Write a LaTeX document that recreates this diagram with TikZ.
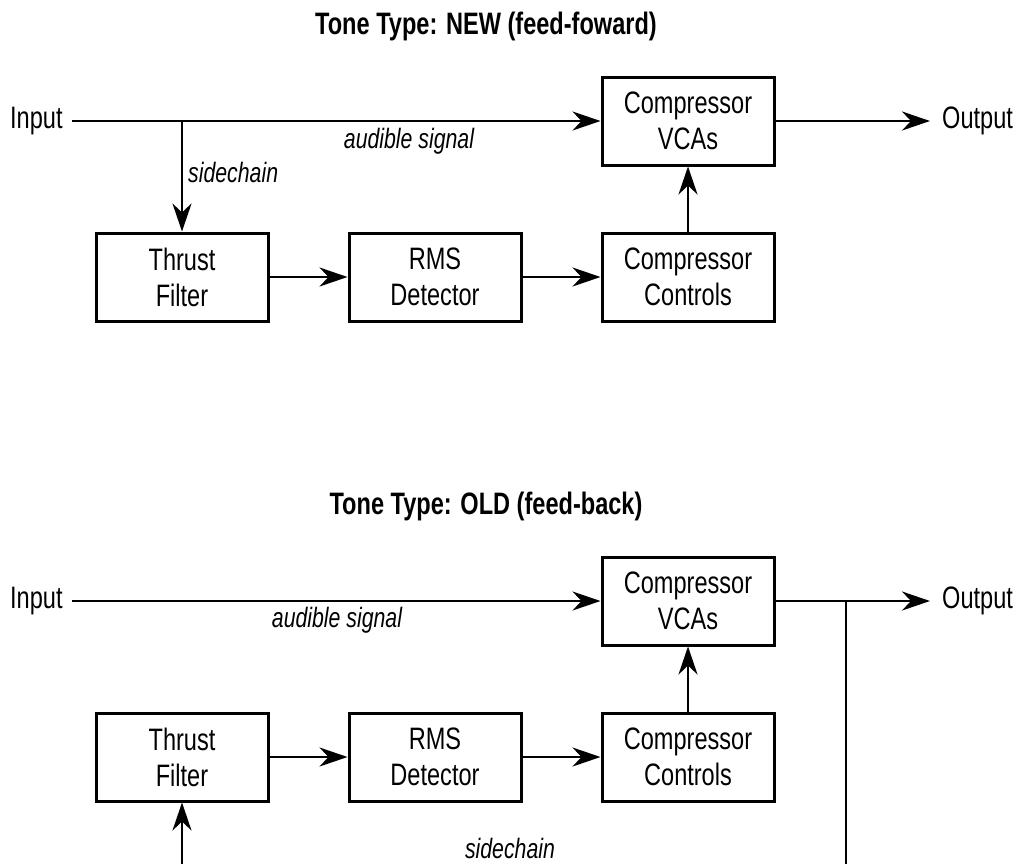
\documentclass[tikz,border=0pt]{standalone}
\usepackage{fontspec}
\setmainfont{Liberation Sans}[FakeStretch=0.76]
\usetikzlibrary{arrows.meta}
\begin{document}
\begin{tikzpicture}[x=1pt,y=-1pt,
  blk/.style={draw,line width=3pt,minimum width=172pt,minimum height=88pt,align=center,
    font=\fontsize{31}{36}\selectfont,inner sep=0pt},
  lbl/.style={font=\fontsize{31}{36}\selectfont,inner sep=0pt},
  ital/.style={font=\fontsize{28}{32}\selectfont\itshape,inner sep=0pt},
  ttl/.style={font=\fontsize{31}{36}\selectfont\bfseries,inner sep=0pt},
  wire/.style={line width=2.6pt},
  arr/.style={wire,-{Stealth[length=28pt,width=19pt,inset=9pt]}}]
\useasboundingbox (0,0) rectangle (1022,863);
\clip (0,0) rectangle (1022,863);

% ---------- top diagram ----------
\node[ttl] (t1) at (486,26) {Tone Type: NEW (feed-foward)};
\node[lbl,anchor=west] (in1) at (10,121) {Input};
\node[lbl,anchor=west] (out1) at (942,121) {Output};
\node[blk] (vca1) at (688,121) {Compressor\\VCAs};
\node[blk] (tf1) at (182,277) {Thrust\\Filter};
\node[blk] (rms1) at (435,277) {RMS\\Detector};
\node[blk] (cc1) at (688,277) {Compressor\\Controls};
\node[ital] (as1) at (409,141) {audible signal};
\node[ital,anchor=west] (sc1) at (188,172) {sidechain};

\draw[arr] ([xshift=9pt]in1.east) -- (vca1.west);
\coordinate (br1) at (tf1.north |- in1.east);
\draw[arr] (br1) -- (tf1.north);
\draw[arr] (tf1.east) -- (rms1.west);
\draw[arr] (rms1.east) -- (cc1.west);
\draw[arr] (cc1.north) -- (vca1.south);
\draw[arr] (vca1.east) -- ([xshift=-12pt]out1.west);

% ---------- bottom diagram ----------
\node[ttl] (t2) at (486,506) {Tone Type: OLD (feed-back)};
\node[lbl,anchor=west] (in2) at (10,601) {Input};
\node[lbl,anchor=west] (out2) at (942,601) {Output};
\node[blk] (vca2) at (688,601) {Compressor\\VCAs};
\node[blk] (tf2) at (182,757) {Thrust\\Filter};
\node[blk] (rms2) at (435,757) {RMS\\Detector};
\node[blk] (cc2) at (688,757) {Compressor\\Controls};
\node[ital] (as2) at (337,620) {audible signal};
\node[ital] (sc2) at (510,848) {sidechain};

\draw[arr] ([xshift=9pt]in2.east) -- (vca2.west);
\draw[arr] (tf2.east) -- (rms2.west);
\draw[arr] (rms2.east) -- (cc2.west);
\draw[arr] (cc2.north) -- (vca2.south);
\draw[arr] (vca2.east) -- ([xshift=-12pt]out2.west);
\coordinate (j2) at (846,601);
\coordinate (fb2) at (846,870);
\draw[wire] (j2) -- (fb2);
\coordinate (sb2) at (182,870);
\draw[arr] (sb2) -- (tf2.south);
\end{tikzpicture}
\end{document}
